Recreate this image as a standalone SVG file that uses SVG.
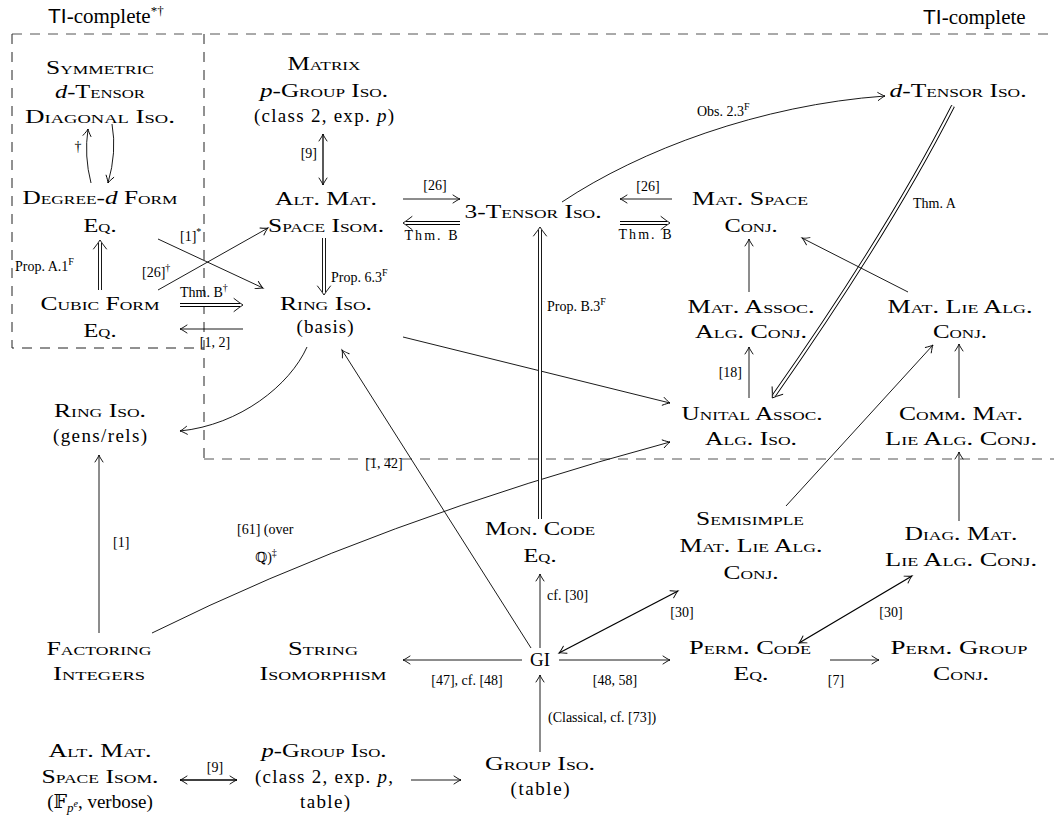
<svg xmlns="http://www.w3.org/2000/svg" width="1054" height="818" viewBox="0 0 1054 818" font-family="Liberation Serif, Tinos, Times New Roman, DejaVu Serif, serif">
<style>
.n{font-family:"Liberation Serif","Tinos","Times New Roman","DejaVu Serif",serif;font-size:19px;text-anchor:middle;font-variant:small-caps;fill:#000}
.r{font-variant:normal}
.it{font-style:italic;font-variant:normal}
.l{font-family:"Liberation Serif","Tinos","Times New Roman","DejaVu Serif",serif;font-size:14px;fill:#000}
.m{text-anchor:middle}
.e{text-anchor:end}
.sup{font-size:10px}
.t{font-family:"Liberation Serif","Tinos","Times New Roman","DejaVu Serif",serif;font-size:21px;fill:#000}
.sans{font-family:"Liberation Sans","DejaVu Sans",sans-serif}
.c{fill:none;stroke:#000;stroke-width:0.9}
.a{marker-end:url(#ah)}
.b{marker-start:url(#ah);marker-end:url(#ah);stroke-width:1.3}
.d1{fill:none;stroke:#000;stroke-width:4;marker-end:url(#dh)}
.d2{fill:none;stroke:#fff;stroke-width:2.2}
.box{fill:none;stroke:#222;stroke-width:1;stroke-dasharray:10 8}
.reg{fill:none;stroke:#555;stroke-width:1;stroke-dasharray:10 8}
</style>
<defs>
<marker id="ah" markerUnits="userSpaceOnUse" viewBox="-9 -6 10 12" markerWidth="10" markerHeight="12" refX="0" refY="0" orient="auto-start-reverse" overflow="visible">
<path d="M-7,-4 C-4,-2 -1.5,-0.4 0,0 C-1.5,0.4 -4,2 -7,4" fill="none" stroke="#000" stroke-width="0.9" stroke-linecap="round"/>
</marker>
<marker id="dh" markerUnits="userSpaceOnUse" viewBox="-12 -8 14 16" markerWidth="14" markerHeight="16" refX="-3" refY="0" orient="auto" overflow="visible">
<path d="M-9,-6.5 Q-3,-1.8 0,0 Q-3,1.8 -9,6.5" fill="none" stroke="#000" stroke-width="0.9" stroke-linecap="round"/>
</marker>
</defs>
<rect width="1054" height="818" fill="#fff"/>

<g id="regions">
<path class="reg" d="M12,34 H1054 M204,459 H1054"/>
<path class="box" d="M12,34 V348 H204 M204,34 V459"/>
<text class="t" x="48" y="23"><tspan class="sans">TI</tspan>-complete<tspan dy="-8" font-size="13">*†</tspan></text>
<text class="t" x="923" y="24"><tspan class="sans">TI</tspan>-complete</text>
</g>

<g id="connectors">
<path class="c a" d="M91,183 Q84,156 88,129"/>
<path class="c a" d="M112,124 Q117,152 108,183"/>
<path class="d1" d="M100,290 L100,243"/><path class="d2" d="M100,290 L100,243"/>
<path class="c b" d="M323,134 L323,185"/>
<path class="c a" d="M403,199 L460,199"/>
<path class="d1" d="M460,223 L406,223"/><path class="d2" d="M460,223 L406,223"/>
<path class="d1" d="M324,238 L324,292"/><path class="d2" d="M324,238 L324,292"/>
<path class="c a" d="M158,290 L268,228"/>
<path class="c a" d="M158,239 L263,288"/>
<path class="d1" d="M180,305 L240,305"/><path class="d2" d="M180,305 L240,305"/>
<path class="c a" d="M243,329 L180,329"/>
<path class="c a" d="M307,347 C290,385 240,425 180,431"/>
<path class="c a" d="M531,648 L342,350"/>
<path class="c a" d="M403,337 L670,403"/>
<path class="c a" d="M152,633 Q380,520 670,442"/>
<path class="c a" d="M99,633 L99,455"/>
<path class="c a" d="M562,202 C640,150 760,105 885,96"/>
<path class="c a" d="M672,199 L620,199"/>
<path class="d1" d="M620,223 L667,223"/><path class="d2" d="M620,223 L667,223"/>
<path class="d1" d="M953,106 Q890,230 774,395.5"/><path class="d2" d="M953,106 Q890,230 774,395.5"/>
<path class="c a" d="M749,292 L749,239"/>
<path class="c a" d="M749,398 L749,347"/>
<path class="c a" d="M908,292 L802,238"/>
<path class="c a" d="M959,398 L959,344"/>
<path class="c a" d="M959,521 L959,452"/>
<path class="c a" d="M786,506 L933,345"/>
<path class="c a" d="M540,648 L540,574"/>
<path class="d1" d="M540,519 L540,230"/><path class="d2" d="M540,519 L540,230"/>
<path class="c b" d="M559,653 L678,591"/>
<path class="c b" d="M799,643 L912,576"/>
<path class="c a" d="M522,660 L403,660"/>
<path class="c a" d="M559,660 L670,660"/>
<path class="c a" d="M830,660 L879,660"/>
<path class="c a" d="M540,752 L540,675"/>
<path class="c b" d="M180,780 L237,780"/>
<path class="c a" d="M411,780 L461,780"/>

<text class="l m" x="78" y="151">†</text>
<text class="l" x="15" y="271">Prop. A.1<tspan class="sup" dy="-6">F</tspan></text>
<text class="l e" x="317" y="158">[9]</text>
<text class="l m" x="435" y="190">[26]</text>
<text class="l m" x="431" y="240" textLength="53">Thm. B</text>
<text class="l" x="331" y="282">Prop. 6.3<tspan class="sup" dy="-6">F</tspan></text>
<text class="l" x="142" y="277">[26]<tspan class="sup" dy="-6">†</tspan></text>
<text class="l" x="180" y="241">[1]<tspan class="sup" dy="-6">*</tspan></text>
<text class="l" x="180" y="297">Thm. B<tspan class="sup" dy="-6">†</tspan></text>
<text class="l m" x="215" y="347">[1, 2]</text>
<text class="l m" x="384" y="468">[1, 42]</text>
<text class="l" x="237" y="534">[61] (over</text>
<text class="l" x="255" y="562">ℚ)<tspan class="sup" dy="-6">‡</tspan></text>
<text class="l" x="113" y="547">[1]</text>
<text class="l" x="697" y="116">Obs. 2.3<tspan class="sup" dy="-6">F</tspan></text>
<text class="l m" x="648" y="191">[26]</text>
<text class="l m" x="645" y="239" textLength="53">Thm. B</text>
<text class="l" x="913" y="208">Thm. A</text>
<text class="l e" x="742" y="377">[18]</text>
<text class="l" x="547" y="600">cf. [30]</text>
<text class="l" x="547" y="311">Prop. B.3<tspan class="sup" dy="-6">F</tspan></text>
<text class="l m" x="682" y="617">[30]</text>
<text class="l m" x="891" y="617">[30]</text>
<text class="l m" x="467" y="685">[47], cf. [48]</text>
<text class="l m" x="615" y="685">[48, 58]</text>
<text class="l m" x="836" y="685">[7]</text>
<text class="l" x="548" y="722">(Classical, cf. [73])</text>
<text class="l m" x="215" y="772">[9]</text>
</g>

<g id="n-symdiag">
<text class="n" x="100" y="74" textLength="108" lengthAdjust="spacingAndGlyphs">Symmetric</text>
<text class="n" x="100" y="98" textLength="90" lengthAdjust="spacingAndGlyphs"><tspan class="it">d</tspan>-Tensor</text>
<text class="n" x="100" y="123" textLength="150" lengthAdjust="spacingAndGlyphs">Diagonal Iso.</text>
</g>
<g id="n-degform">
<text class="n" x="100" y="204" textLength="155" lengthAdjust="spacingAndGlyphs">Degree-<tspan class="it">d</tspan> Form</text>
<text class="n" x="100" y="232" textLength="33" lengthAdjust="spacingAndGlyphs">Eq.</text>
</g>
<g id="n-cubic">
<text class="n" x="100" y="310" textLength="119" lengthAdjust="spacingAndGlyphs">Cubic Form</text>
<text class="n" x="100" y="337" textLength="33" lengthAdjust="spacingAndGlyphs">Eq.</text>
</g>
<g id="n-matrixpgroup">
<text class="n" x="324" y="70" textLength="73" lengthAdjust="spacingAndGlyphs">Matrix</text>
<text class="n" x="324" y="97" textLength="128" lengthAdjust="spacingAndGlyphs"><tspan class="it">p</tspan>-Group Iso.</text>
<text class="n r" x="324" y="122" textLength="140">(class 2, exp. <tspan class="it">p</tspan>)</text>
</g>
<g id="n-altmat">
<text class="n" x="326" y="205" textLength="102" lengthAdjust="spacingAndGlyphs">Alt. Mat.</text>
<text class="n" x="326" y="232" textLength="116" lengthAdjust="spacingAndGlyphs">Space Isom.</text>
</g>
<g id="n-ringbasis">
<text class="n" x="326" y="310" textLength="92" lengthAdjust="spacingAndGlyphs">Ring Iso.</text>
<text class="n r" x="325" y="333" textLength="57">(basis)</text>
</g>
<g id="n-3tensor">
<text class="n" x="533" y="218" textLength="137" lengthAdjust="spacingAndGlyphs">3-Tensor Iso.</text>
</g>
<g id="n-dtensor">
<text class="n" x="958" y="97" textLength="137" lengthAdjust="spacingAndGlyphs"><tspan class="it">d</tspan>-Tensor Iso.</text>
</g>
<g id="n-matspace">
<text class="n" x="750" y="205" textLength="116" lengthAdjust="spacingAndGlyphs">Mat. Space</text>
<text class="n" x="751" y="232" textLength="53" lengthAdjust="spacingAndGlyphs">Conj.</text>
</g>
<g id="n-matassoc">
<text class="n" x="751" y="313" textLength="127" lengthAdjust="spacingAndGlyphs">Mat. Assoc.</text>
<text class="n" x="751" y="338" textLength="112" lengthAdjust="spacingAndGlyphs">Alg. Conj.</text>
</g>
<g id="n-matlie">
<text class="n" x="960" y="313" textLength="145" lengthAdjust="spacingAndGlyphs">Mat. Lie Alg.</text>
<text class="n" x="960" y="338" textLength="54" lengthAdjust="spacingAndGlyphs">Conj.</text>
</g>
<g id="n-unital">
<text class="n" x="752" y="420" textLength="141" lengthAdjust="spacingAndGlyphs">Unital Assoc.</text>
<text class="n" x="751" y="445" textLength="92" lengthAdjust="spacingAndGlyphs">Alg. Iso.</text>
</g>
<g id="n-comm">
<text class="n" x="961" y="420" textLength="124" lengthAdjust="spacingAndGlyphs">Comm. Mat.</text>
<text class="n" x="961" y="445" textLength="152" lengthAdjust="spacingAndGlyphs">Lie Alg. Conj.</text>
</g>
<g id="n-ringgens">
<text class="n" x="100" y="417" textLength="92" lengthAdjust="spacingAndGlyphs">Ring Iso.</text>
<text class="n r" x="100" y="442" textLength="94">(gens/rels)</text>
</g>
<g id="n-factoring">
<text class="n" x="99" y="655" textLength="105" lengthAdjust="spacingAndGlyphs">Factoring</text>
<text class="n" x="99" y="680" textLength="92" lengthAdjust="spacingAndGlyphs">Integers</text>
</g>
<g id="n-string">
<text class="n" x="323" y="655" textLength="70" lengthAdjust="spacingAndGlyphs">String</text>
<text class="n" x="323" y="680" textLength="127" lengthAdjust="spacingAndGlyphs">Isomorphism</text>
</g>
<g id="n-gi">
<text class="n r" x="540" y="666">GI</text>
</g>
<g id="n-permcode">
<text class="n" x="750" y="654" textLength="122" lengthAdjust="spacingAndGlyphs">Perm. Code</text>
<text class="n" x="751" y="680" textLength="35" lengthAdjust="spacingAndGlyphs">Eq.</text>
</g>
<g id="n-permgroup">
<text class="n" x="959" y="654" textLength="137" lengthAdjust="spacingAndGlyphs">Perm. Group</text>
<text class="n" x="961" y="680" textLength="56" lengthAdjust="spacingAndGlyphs">Conj.</text>
</g>
<g id="n-groupiso">
<text class="n" x="540" y="770" textLength="110" lengthAdjust="spacingAndGlyphs">Group Iso.</text>
<text class="n r" x="540" y="795" textLength="59">(table)</text>
</g>
<g id="n-altmatF">
<text class="n" x="100" y="757" textLength="103" lengthAdjust="spacingAndGlyphs">Alt. Mat.</text>
<text class="n" x="100" y="783" textLength="117" lengthAdjust="spacingAndGlyphs">Space Isom.</text>
<text class="n r" x="100" y="808">(𝔽<tspan class="it" font-size="13" dy="4">p</tspan><tspan class="it" font-size="10" dy="-5">e</tspan><tspan dy="1">, verbose)</tspan></text>
</g>
<g id="n-pgroup">
<text class="n" x="324" y="757" textLength="125" lengthAdjust="spacingAndGlyphs"><tspan class="it">p</tspan>-Group Iso.</text>
<text class="n r" x="324" y="783" textLength="138">(class 2, exp. <tspan class="it">p</tspan>,</text>
<text class="n r" x="325" y="808" textLength="50">table)</text>
</g>
<g id="n-moncode">
<text class="n" x="540" y="535" textLength="110" lengthAdjust="spacingAndGlyphs">Mon. Code</text>
<text class="n" x="540" y="562" textLength="33" lengthAdjust="spacingAndGlyphs">Eq.</text>
</g>
<g id="n-semisimple">
<text class="n" x="750" y="525" textLength="108" lengthAdjust="spacingAndGlyphs">Semisimple</text>
<text class="n" x="751" y="552" textLength="143" lengthAdjust="spacingAndGlyphs">Mat. Lie Alg.</text>
<text class="n" x="751" y="579" textLength="55" lengthAdjust="spacingAndGlyphs">Conj.</text>
</g>
<g id="n-diag">
<text class="n" x="961" y="540" textLength="113" lengthAdjust="spacingAndGlyphs">Diag. Mat.</text>
<text class="n" x="961" y="566" textLength="152" lengthAdjust="spacingAndGlyphs">Lie Alg. Conj.</text>
</g>
</svg>
